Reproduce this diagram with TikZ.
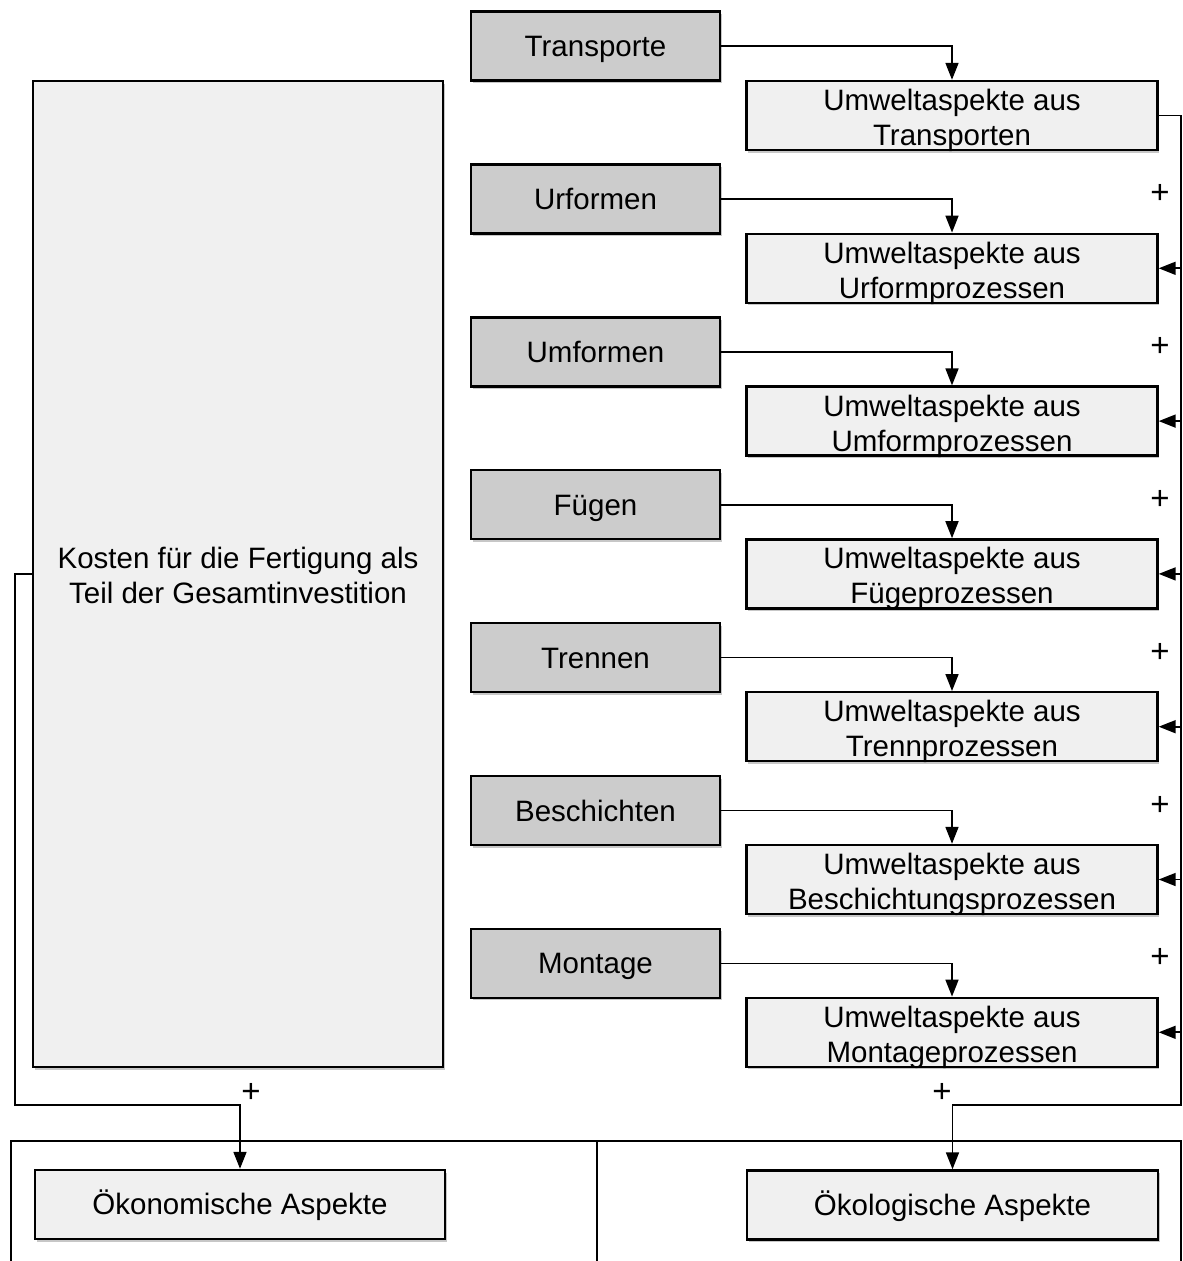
\documentclass[tikz,border=0pt]{standalone}
\usepackage{fontspec}
\setmainfont{Liberation Sans}
\usetikzlibrary{arrows.meta,shadows}
\newcommand\topstrutA{\rule{0pt}{27pt}}
\newcommand\topstrutB{\rule{0pt}{31pt}}
\newcommand\botstrut{\rule[-6pt]{0pt}{0pt}}
\begin{document}
\begin{tikzpicture}[x=1pt,y=-1pt,
  box/.style={draw=black, line width=2.4pt, minimum height=69pt, align=center, inner sep=0pt,
    font=\fontsize{29.5}{35}\selectfont,
    drop shadow={shadow xshift=1.5pt, shadow yshift=-2.5pt, opacity=0.22, fill=black}},
  proc/.style={box, fill=black!20, minimum width=249pt},
  env/.style={box, fill=black!6, minimum width=411pt},
  twoline/.style={inner ysep=-2.5pt},
  wire/.style={line width=1.7pt},
  conn/.style={wire, -{Triangle[length=17pt,width=13pt]}},
  plus/.style={font=\fontsize{33}{33}\selectfont, inner sep=0pt}]
\useasboundingbox (0,0) rectangle (1183,1261);

% bottom frame
\draw[wire] (11,1261) -- (11,1141) -- (1181,1141) -- (1181,1261);
\draw[wire] (597,1141) -- (597,1261);

% left cost box
\node[box, fill=black!6, minimum width=410pt, minimum height=986pt] (kosten) at (238,574) {};
\node[font=\fontsize{29.5}{35}\selectfont, align=center] (kostentext) at (238,575) {Kosten für die Fertigung als\\Teil der Gesamtinvestition};

% result boxes
\node[env, minimum width=410pt] (oekon) at (240,1204.5) {\topstrutA Ökonomische Aspekte\botstrut};
\node[env] (oekol) at (952.5,1205) {\topstrutA Ökologische Aspekte\botstrut};

% processes
\coordinate (busTop) at (1181,115.5);
\coordinate (busBot) at (1181,1105);
\foreach [count=\k from 0] \t/\u in {Transporte/Transporten, Urformen/Urformprozessen, Umformen/Umformprozessen, Fügen/Fügeprozessen, Trennen/Trennprozessen, Beschichten/Beschichtungsprozessen, Montage/Montageprozessen} {
  \node[proc] (p\k) at (595.5,{46+152.9*\k}) {\topstrutA\t\botstrut};
  \node[env, twoline] (e\k) at (952,{115.5+152.8*\k}) {\topstrutB Umweltaspekte aus\\\u\botstrut};
  \draw[conn] (p\k.east) -| (e\k.north);
}
\foreach \k in {1,...,6} {
  \draw[conn] (e\k.east -| busTop) -- (e\k.east);
  \node[plus] (plus\k) at (1160,{115.5+152.8*\k-74}) {+};
}

% right bus to ecological aspects
\draw[conn] (e0.east) -- (busTop) -- (busBot) -| (oekol.north);
\node[plus] (plusOekol) at (942,1093) {+};

% left line to economic aspects
\coordinate (leftBend) at (15,1105);
\draw[conn] (kosten.west) -| (leftBend) -| (oekon.north);
\node[plus] (plusOekon) at (251,1093) {+};
\end{tikzpicture}
\end{document}
